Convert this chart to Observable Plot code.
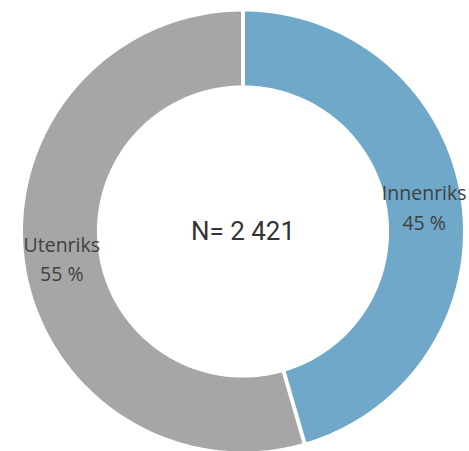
<!DOCTYPE html>
<html>
<head>
<meta charset="utf-8">
<script src="https://cdn.jsdelivr.net/npm/d3@7"></script>
<script src="https://cdn.jsdelivr.net/npm/@observablehq/plot@0.6"></script>
<style>
  html, body { margin: 0; padding: 0; background: #fff; }
</style>
</head>
<body>
<div id="chart"></div>
<script>
// Data
const categories = ["Innenriks", "Utenriks"];
const shares = [45.5, 54.5];
const shareLabels = ["45 %", "55 %"];
const totalLabel = "N= 2 421";

// Styles
const sliceColors = ["#6fa8c8", "#a6a6a6"];
const innerRatio = 0.664;

// Build slice geometry (polar -> cartesian in data space)
const total = d3.sum(shares);
const slices = [];
let acc = 0;
categories.forEach((name, i) => {
  const a0 = acc / total * 2 * Math.PI;
  acc += shares[i];
  const a1 = acc / total * 2 * Math.PI;
  slices.push({name, a0, a1, label: shareLabels[i]});
});

const polys = [];
for (const s of slices) {
  const n = 200;
  for (let k = 0; k <= n; k++) {
    const a = s.a0 + (s.a1 - s.a0) * k / n;
    polys.push({name: s.name, x: Math.sin(a), y: Math.cos(a)});
  }
  for (let k = n; k >= 0; k--) {
    const a = s.a0 + (s.a1 - s.a0) * k / n;
    polys.push({name: s.name, x: innerRatio * Math.sin(a), y: innerRatio * Math.cos(a)});
  }
}

const separators = slices.map(s => ({
  x1: innerRatio * 0.98 * Math.sin(s.a0), y1: innerRatio * 0.98 * Math.cos(s.a0),
  x2: 1.02 * Math.sin(s.a0), y2: 1.02 * Math.cos(s.a0)
}));

const labelR = (1 + innerRatio) / 2;
const labels = slices.map(s => {
  const m = (s.a0 + s.a1) / 2;
  return {x: labelR * Math.sin(m), y: labelR * Math.cos(m), text: s.name + "\n" + s.label};
});

const chart = Plot.plot({
  width: 469,
  height: 451,
  margin: 0,
  x: {domain: [-1, 1], range: [22.5, 462.5], axis: null},
  y: {domain: [-1, 1], range: [451, 11], axis: null},
  color: {domain: categories, range: sliceColors},
  style: {background: "white"},
  marks: [
    Plot.line(polys, {x: "x", y: "y", z: "name", fill: "name", stroke: "none", curve: "linear-closed"}),
    Plot.link(separators, {x1: "x1", y1: "y1", x2: "x2", y2: "y2", stroke: "white", strokeWidth: 4}),
    Plot.text(labels, {x: "x", y: "y", text: "text", fontSize: 19.5, lineHeight: 1.5, fill: "#404040", fontFamily: "Open Sans"}),
    Plot.text([totalLabel], {x: () => 0, y: () => 0, text: d => d, fontSize: 26, fill: "#333333", fontFamily: "Roboto"})
  ]
});
document.getElementById("chart").appendChild(chart);
</script>
</body>
</html>
